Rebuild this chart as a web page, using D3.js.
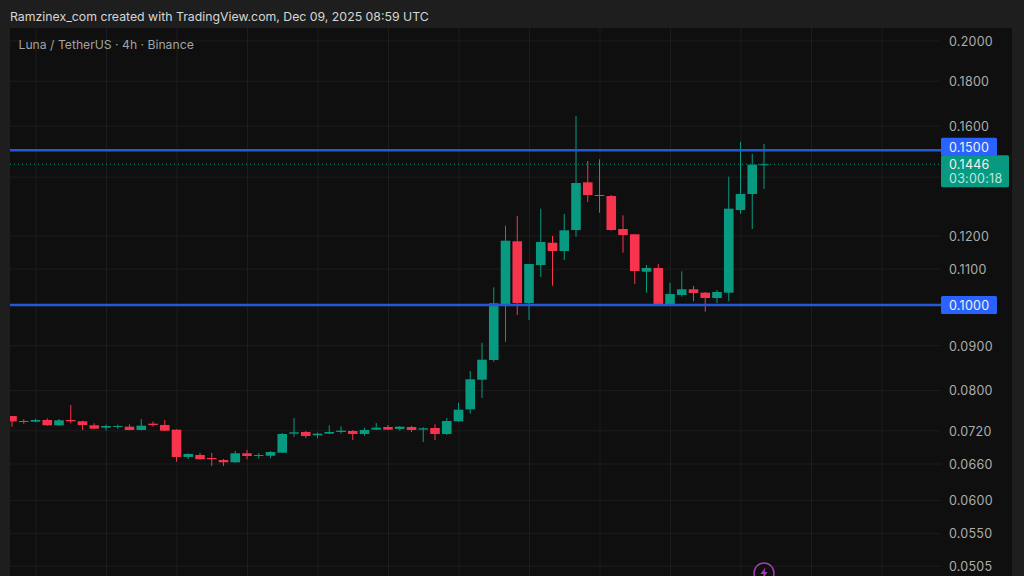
<!DOCTYPE html>
<html>
<head>
<meta charset="utf-8">
<script src="https://d3js.org/d3.v7.min.js"></script>
<style>
    html, body { margin: 0; padding: 0; background: #1e1e1e; overflow: hidden; }
    text { font-family: Inter, Roboto, sans-serif; }
</style>
</head>
<body>
<div id="chart"></div>
<script>
// candles, oldest first
const opens = [0.07475, 0.07379, 0.07365, 0.07398, 0.07296, 0.07398, 0.07373, 0.07296, 0.07251, 0.07264,
    0.07270, 0.07207, 0.07327, 0.07302, 0.07213, 0.06715, 0.06750, 0.06697, 0.06662, 0.06622,
    0.06780, 0.06732, 0.06737, 0.06790, 0.07138, 0.07169, 0.07107, 0.07138, 0.07169, 0.07188,
    0.07132, 0.07213, 0.07264, 0.07226, 0.07264, 0.07213, 0.07245, 0.07132, 0.07373, 0.07608,
    0.08222, 0.08658, 0.10026, 0.11817, 0.10052, 0.11105, 0.11773, 0.11520, 0.12172, 0.13792,
    0.13341, 0.13306, 0.12204, 0.12036, 0.10912, 0.11018, 0.10018, 0.10266, 0.10420, 0.10328,
    0.10185, 0.10328, 0.12827, 0.13376, 0.14430];
const highs = [0.07475, 0.07417, 0.07417, 0.07430, 0.07417, 0.07694, 0.07385, 0.07334, 0.07308, 0.07308,
    0.07315, 0.07417, 0.07366, 0.07398, 0.07220, 0.06780, 0.06785, 0.06785, 0.06680, 0.06821,
    0.06839, 0.06785, 0.06821, 0.07151, 0.07436, 0.07188, 0.07156, 0.07296, 0.07277, 0.07207,
    0.07251, 0.07340, 0.07302, 0.07283, 0.07283, 0.07258, 0.07315, 0.07436, 0.07740, 0.08412,
    0.09059, 0.10475, 0.12310, 0.12627, 0.11134, 0.12871, 0.11982, 0.12693, 0.16410, 0.14585,
    0.14650, 0.13341, 0.12650, 0.12036, 0.11105, 0.11134, 0.10602, 0.10923, 0.10511, 0.10347,
    0.10401, 0.13996, 0.15341, 0.14854, 0.15249];
const lows = [0.07270, 0.07327, 0.07354, 0.07289, 0.07289, 0.07334, 0.07207, 0.07220, 0.07194, 0.07226,
    0.07201, 0.07201, 0.07270, 0.07188, 0.06632, 0.06680, 0.06667, 0.06558, 0.06558, 0.06615,
    0.06675, 0.06685, 0.06692, 0.06785, 0.07081, 0.07057, 0.07052, 0.07132, 0.07138, 0.07020,
    0.07100, 0.07207, 0.07207, 0.07194, 0.07169, 0.06983, 0.07020, 0.07113, 0.07365, 0.07521,
    0.07837, 0.08619, 0.09083, 0.09741, 0.09615, 0.10761, 0.10519, 0.11252, 0.11960, 0.13098,
    0.12736, 0.12149, 0.11469, 0.10566, 0.10328, 0.09982, 0.10000, 0.10220, 0.10097, 0.09826,
    0.10052, 0.10097, 0.12703, 0.12204, 0.13553];
const closes = [0.07370, 0.07360, 0.07398, 0.07296, 0.07392, 0.07373, 0.07302, 0.07232, 0.07283, 0.07283,
    0.07207, 0.07289, 0.07302, 0.07194, 0.06715, 0.06768, 0.06675, 0.06675, 0.06622, 0.06780,
    0.06732, 0.06750, 0.06803, 0.07132, 0.07163, 0.07094, 0.07138, 0.07169, 0.07194, 0.07132,
    0.07207, 0.07251, 0.07213, 0.07270, 0.07207, 0.07239, 0.07132, 0.07379, 0.07600, 0.08231,
    0.08665, 0.10045, 0.11835, 0.10052, 0.11134, 0.11795, 0.11520, 0.12162, 0.13767, 0.13341,
    0.13306, 0.12172, 0.12013, 0.10932, 0.11018, 0.10018, 0.10292, 0.10420, 0.10319, 0.10185,
    0.10347, 0.12871, 0.13376, 0.14444, 0.14460];

const gridPrices = [0.2, 0.18, 0.16, 0.14, 0.12, 0.11, 0.1, 0.09, 0.08, 0.072, 0.066, 0.06, 0.055, 0.0505];
// 0.1400 has a grid line but its label is hidden behind the last price tag
const labelPrices = [0.2, 0.18, 0.16, 0.12, 0.11, 0.09, 0.08, 0.072, 0.066, 0.06, 0.055, 0.0505];
const timeGrid = d3.range(2, 75, 6);   // one vertical line every 6 candles
const levels = [0.15, 0.1];
const lastPrice = 0.1446;
const countdown = "03:00:18";

const width = 1024;
const height = 576;
const plot = { left: 10, right: 941, top: 28, bottom: 576 };

const upColor = "#089981";
const downColor = "#f7344d";
const levelColor = "#2458d8";
const tagBlue = "#2962ff";
const fmt = d3.format(".4f");

const svg = d3.select("#chart")
    .append("svg")
    .attr("width", width)
    .attr("height", height)
    .style("display", "block");

const x = d3.scaleLinear().domain([0, 64]).range([12, 764]);
const y = d3.scaleLog().domain([0.2, 0.05]).range([40.5, 569.5]);

svg.append("rect").attr("width", width).attr("height", height).attr("fill", "#1e1e1e");
svg.append("rect")
    .attr("x", plot.left)
    .attr("y", plot.top)
    .attr("width", 1012 - plot.left)
    .attr("height", plot.bottom - plot.top)
    .attr("fill", "#0f0f0f");

svg.append("clipPath").attr("id", "plot-clip")
    .append("rect")
    .attr("x", plot.left)
    .attr("y", plot.top)
    .attr("width", plot.right - plot.left)
    .attr("height", plot.bottom - plot.top);

// grid
const gridY = svg.append("g")
    .attr("transform", `translate(${plot.right},0)`)
    .call(d3.axisLeft(y).tickValues(gridPrices).tickSize(plot.right - plot.left).tickFormat(""));
gridY.select(".domain").remove();
gridY.selectAll("line").attr("stroke", "#1d1d1d");

const gridX = svg.append("g")
    .attr("transform", `translate(0,${plot.bottom})`)
    .call(d3.axisTop(x).tickValues(timeGrid).tickSize(plot.bottom - plot.top).tickFormat(""));
gridX.select(".domain").remove();
gridX.selectAll("line").attr("stroke", "#1d1d1d");

const chart = svg.append("g").attr("clip-path", "url(#plot-clip)");

// last price line goes under the candles
chart.append("line")
    .attr("x1", plot.left)
    .attr("x2", plot.right)
    .attr("y1", y(lastPrice))
    .attr("y2", y(lastPrice))
    .attr("stroke", upColor)
    .attr("stroke-width", 1)
    .attr("stroke-dasharray", "1 3");

const candles = chart.selectAll(".candle")
    .data(opens.map((o, i) => ({ i: i, o: o, h: highs[i], l: lows[i], c: closes[i] })))
    .enter().append("g")
    .attr("class", "candle");

candles.append("line")
    .attr("x1", d => x(d.i))
    .attr("x2", d => x(d.i))
    .attr("y1", d => y(d.h))
    .attr("y2", d => y(d.l))
    .attr("stroke", d => d.c >= d.o ? upColor : downColor)
    .attr("stroke-width", 1);

candles.append("rect")
    .attr("x", d => x(d.i) - 4.8)
    .attr("width", 9.6)
    .attr("y", d => y(Math.max(d.o, d.c)))
    .attr("height", d => Math.max(1, Math.abs(y(d.o) - y(d.c))))
    .attr("fill", d => d.c >= d.o ? upColor : downColor);

// horizontal levels drawn on the chart
chart.selectAll(".level")
    .data(levels)
    .enter().append("line")
    .attr("class", "level")
    .attr("x1", plot.left)
    .attr("x2", plot.right)
    .attr("y1", d => y(d))
    .attr("y2", d => y(d))
    .attr("stroke", levelColor)
    .attr("stroke-width", 2.4);

// price axis
const axis = svg.append("g")
    .attr("transform", "translate(949,0.8)")
    .call(d3.axisRight(y).tickValues(labelPrices).tickSize(0).tickPadding(0).tickFormat(fmt));
axis.select(".domain").remove();
axis.selectAll("text")
    .attr("fill", "#adadad")
    .style("font-size", "12.5px")
    .style("letter-spacing", "0.25px")
    .style("font-family", "Inter, Roboto, sans-serif");

// price tags, the 0.15 one is pushed up so it clears the last price tag
const tagShift = d => d === 0.15 ? -3.5 : 0;

svg.selectAll(".level-tag")
    .data(levels)
    .enter().append("rect")
    .attr("class", "level-tag")
    .attr("x", plot.right)
    .attr("y", d => y(d) + tagShift(d) - 9)
    .attr("width", 56)
    .attr("height", 18)
    .attr("rx", 1.5)
    .attr("fill", tagBlue);

svg.selectAll(".level-label")
    .data(levels)
    .enter().append("text")
    .attr("class", "level-label")
    .attr("x", 949)
    .attr("y", d => y(d) + tagShift(d) + 5)
    .attr("fill", "#f2f2f2")
    .style("font-size", "12.5px")
    .style("letter-spacing", "0.25px")
    .text(fmt);

svg.append("rect")
    .attr("x", plot.right)
    .attr("y", y(lastPrice) - 9)
    .attr("width", 68)
    .attr("height", 32)
    .attr("rx", 1.5)
    .attr("fill", upColor);

svg.append("text")
    .attr("x", 949)
    .attr("y", y(lastPrice) + 5)
    .attr("fill", "#f2f2f2")
    .style("font-size", "12.5px")
    .style("letter-spacing", "0.25px")
    .text(fmt(lastPrice));

svg.append("text")
    .attr("x", 949)
    .attr("y", y(lastPrice) + 19)
    .attr("fill", "#bfe6dd")
    .style("font-size", "12.5px")
    .style("letter-spacing", "0.25px")
    .text(countdown);

// captions
svg.append("text")
    .attr("x", 10)
    .attr("y", 21)
    .attr("fill", "#d6d6d6")
    .style("font-size", "12.3px")
    .text("Ramzinex_com created with TradingView.com, Dec 09, 2025 08:59 UTC");

svg.append("text")
    .attr("x", 18.5)
    .attr("y", 48.5)
    .attr("fill", "#a3a3a3")
    .style("font-size", "12.2px")
    .text("Luna / TetherUS · 4h · Binance");

// flash icon cut off by the bottom edge, under the last candle
const flash = svg.append("g").attr("transform", `translate(${x(64)},573)`);
flash.append("circle")
    .attr("r", 10)
    .attr("fill", "#0f0f0f")
    .attr("stroke", "#a03cb4")
    .attr("stroke-width", 1.5);
flash.append("path")
    .attr("d", "M1.5,-6 L-3.5,1 L-0.5,1 L-1.5,6 L3.5,-1 L0.5,-1 Z")
    .attr("fill", "#a03cb4");
</script>
</body>
</html>
